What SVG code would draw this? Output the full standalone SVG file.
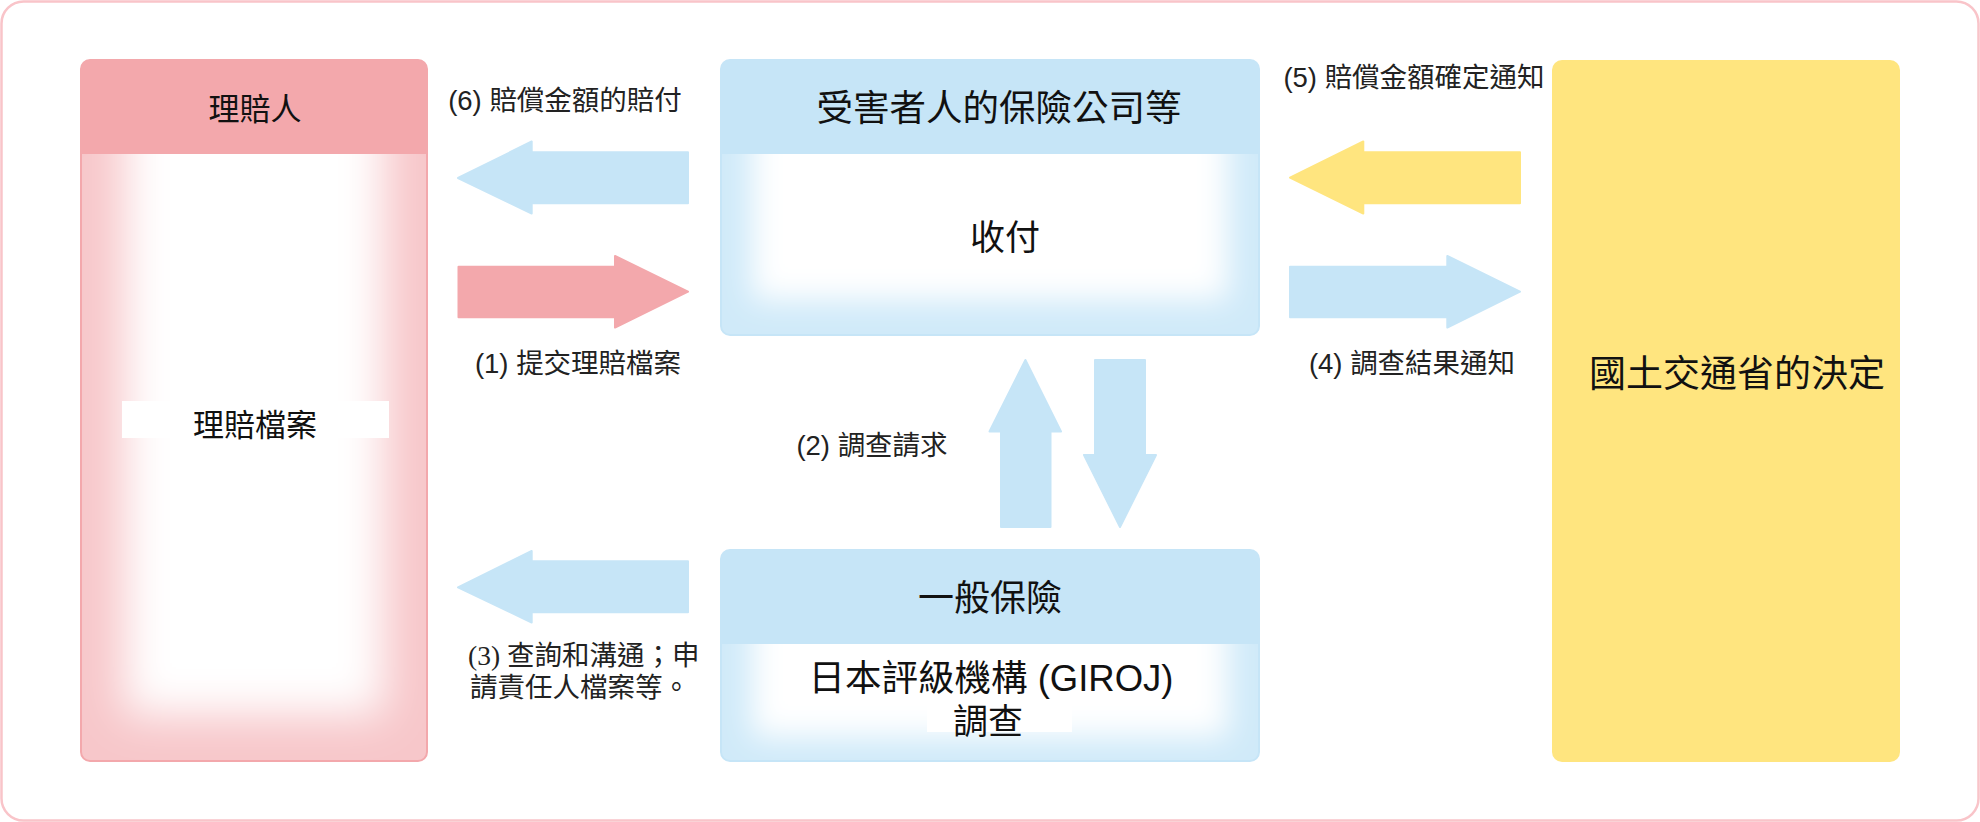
<svg xmlns="http://www.w3.org/2000/svg" width="1980" height="822" viewBox="0 0 1980 822">
<defs>
<style>
.cjk{font-family:"Liberation Sans","Noto Sans CJK TC",sans-serif;fill:#111;}
.lbl{font-family:"Liberation Sans","Noto Sans CJK TC",sans-serif;font-size:27.5px;fill:#222;}
.lbl3{font-family:"Liberation Serif","Noto Sans CJK TC",serif;font-size:27.5px;fill:#222;}
.ab{fill:#c6e5f7;stroke:#c6e5f7;stroke-width:2;stroke-linejoin:round;}
.ap{fill:#f3a8ac;stroke:#f3a8ac;stroke-width:2;stroke-linejoin:round;}
.ay{fill:#ffe57f;stroke:#ffe57f;stroke-width:2;stroke-linejoin:round;}
</style>
<filter id="soft" x="-30%" y="-30%" width="160%" height="160%"><feGaussianBlur stdDeviation="22"/></filter>
<filter id="soft2" x="-30%" y="-30%" width="160%" height="160%"><feGaussianBlur stdDeviation="15"/></filter>
<clipPath id="c1"><rect x="81" y="154" width="346" height="607" rx="9"/></clipPath>
<clipPath id="c2"><rect x="721" y="154" width="538" height="181" rx="9"/></clipPath>
<clipPath id="c3"><rect x="721" y="644" width="538" height="117" rx="9"/></clipPath>
</defs>
<rect x="1.5" y="1.5" width="1977" height="819" rx="22" fill="#ffffff" stroke="#f9c4c9" stroke-width="2.5"/>

<g id="node-claimant">
<rect x="81" y="60" width="346" height="701" rx="9" fill="#f7c7ca"/>
<g clip-path="url(#c1)"><rect x="124" y="90" width="260" height="625" fill="#ffffff" filter="url(#soft)"/></g>
<path d="M81,154 V69 a9,9 0 0 1 9,-9 H418 a9,9 0 0 1 9,9 V154 Z" fill="#f3a8ac"/>
<rect x="81" y="60" width="346" height="701" rx="9" fill="none" stroke="#f3a8ac" stroke-width="2"/>
<text class="cjk" x="255" y="120" font-size="31" text-anchor="middle">理賠人</text>
<rect x="122" y="401" width="267" height="37" fill="#ffffff"/>
<text class="cjk" x="255" y="436" font-size="31" text-anchor="middle">理賠檔案</text>
</g>

<g id="node-insurer">
<rect x="721" y="60" width="538" height="275" rx="9" fill="#d0eaf9"/>
<g clip-path="url(#c2)"><rect x="752" y="100" width="476" height="200" fill="#ffffff" filter="url(#soft2)"/></g>
<path d="M721,154 V69 a9,9 0 0 1 9,-9 H1250 a9,9 0 0 1 9,9 V154 Z" fill="#c6e5f7"/>
<rect x="721" y="60" width="538" height="275" rx="9" fill="none" stroke="#c6e5f7" stroke-width="2"/>
<text class="cjk" x="999" y="121" font-size="36.5" text-anchor="middle">受害者人的保險公司等</text>
<text class="cjk" x="1005" y="250" font-size="35" text-anchor="middle">收付</text>
</g>

<g id="node-giroj">
<rect x="721" y="550" width="538" height="211" rx="9" fill="#d0eaf9"/>
<g clip-path="url(#c3)"><rect x="752" y="600" width="476" height="137" fill="#ffffff" filter="url(#soft2)"/></g>
<path d="M721,644 V559 a9,9 0 0 1 9,-9 H1250 a9,9 0 0 1 9,9 V644 Z" fill="#c6e5f7"/>
<rect x="721" y="550" width="538" height="211" rx="9" fill="none" stroke="#c6e5f7" stroke-width="2"/>
<text class="cjk" x="990" y="611" font-size="36" text-anchor="middle">一般保險</text>
<text class="cjk" x="991" y="691" font-size="36.5" text-anchor="middle">日本評級機構 (GIROJ)</text>
<rect x="927" y="702" width="145" height="30" fill="#ffffff"/>
<text class="cjk" x="988" y="734" font-size="35" text-anchor="middle">調查</text>
</g>

<g id="node-mlit">
<rect x="1552" y="60" width="348" height="702" rx="10" fill="#ffe57f"/>
<text class="cjk" x="1737" y="387" font-size="37" text-anchor="middle">國土交通省的決定</text>
</g>

<g id="connectors">
<polygon class="ab" points="458,178 531.7,141.5 531.7,152.3 688,152.3 688,203.3 531.7,203.3 531.7,213.5"/>
<polygon class="ap" points="458.5,266.7 615,266.7 615,256 688,291.7 615,327.5 615,317.3 458.5,317.3"/>
<polygon class="ab" points="458,587.3 531.7,551 531.7,561.3 688,561.3 688,612.3 531.7,612.3 531.7,622.5"/>
<polygon class="ab" points="1025.4,360 1061,431.5 1050.5,431.5 1050.5,527 1001,527 1001,431.5 989.5,431.5"/>
<polygon class="ab" points="1095,360 1145,360 1145,455 1156,455 1120,527 1084,455 1095,455"/>
<polygon class="ay" points="1290,177.7 1363.3,141.5 1363.3,152.3 1520,152.3 1520,203.3 1363.3,203.3 1363.3,213.5"/>
<polygon class="ab" points="1290,266.7 1447.3,266.7 1447.3,256 1520,291.7 1447.3,327.5 1447.3,317.3 1290,317.3"/>
</g>

<g id="labels">
<text class="lbl" x="565" y="110" text-anchor="middle">(6) 賠償金額的賠付</text>
<text class="lbl" x="578" y="373" text-anchor="middle">(1) 提交理賠檔案</text>
<text class="lbl" x="872" y="455" text-anchor="middle">(2) 調查請求</text>
<text class="lbl3" x="468" y="665">(3) 查詢和溝通；申</text>
<text class="lbl3" x="470" y="697">請責任人檔案等。</text>
<text class="lbl" x="1414" y="87" text-anchor="middle">(5) 賠償金額確定通知</text>
<text class="lbl" x="1412" y="373" text-anchor="middle">(4) 調查結果通知</text>
</g>
</svg>
